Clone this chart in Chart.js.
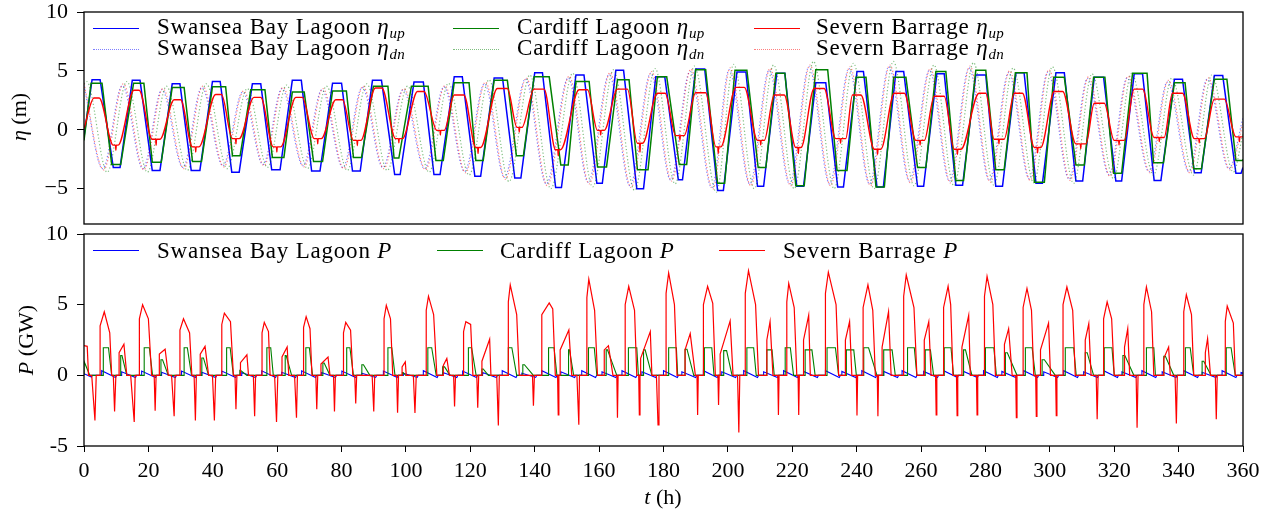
<!DOCTYPE html>
<html lang="en">
<head>
<meta charset="UTF-8">
<title>Water levels and power</title>
<script src="https://cdn.jsdelivr.net/npm/chart.js"></script>
<style>
  body { margin: 0; background: #fff; overflow: hidden; }
  #wrap { position: relative; width: 1271px; height: 514px; font-family: "Liberation Serif", serif; color: #000; }
  canvas { position: absolute; left: 0; }
  .lab { position: absolute; white-space: nowrap; font-size: 22px; line-height: 22px; transform: translate(-50%, -50%); }
  .rot { transform: translate(-50%, -50%) rotate(-90deg); }
  .leg { position: absolute; white-space: nowrap; font-size: 23px; line-height: 23px; letter-spacing: 0.8px; }
  .leg sub, .lab sub { font-size: 15px; line-height: 0; vertical-align: -4px; letter-spacing: 0.3px; }
  .sw { position: absolute; width: 46px; height: 0; }
</style>
</head>
<body>
<div id="wrap">
  <canvas id="etaChart" width="1271" height="232" style="top:0"></canvas>
  <canvas id="powerChart" width="1271" height="289" style="top:225px"></canvas>

  <!-- legend, top panel -->
  <div class="sw" style="left:93px; top:27.5px; border-top:1.5px solid #0000ff"></div>
  <div class="leg" style="left:157px; top:14.5px">Swansea Bay Lagoon <i>η</i><sub><i>up</i></sub></div>
  <div class="sw" style="left:93px; top:48.5px; border-top:1.5px dotted rgba(0,0,255,0.5)"></div>
  <div class="leg" style="left:157px; top:36px">Swansea Bay Lagoon <i>η</i><sub><i>dn</i></sub></div>
  <div class="sw" style="left:453px; top:27.5px; border-top:1.5px solid #008000"></div>
  <div class="leg" style="left:517px; top:14.5px">Cardiff Lagoon <i>η</i><sub><i>up</i></sub></div>
  <div class="sw" style="left:453px; top:48.5px; border-top:1.5px dotted rgba(0,128,0,0.5)"></div>
  <div class="leg" style="left:517px; top:36px">Cardiff Lagoon <i>η</i><sub><i>dn</i></sub></div>
  <div class="sw" style="left:754px; top:27.5px; border-top:1.5px solid #ff0000"></div>
  <div class="leg" style="left:816px; top:14.5px">Severn Barrage <i>η</i><sub><i>up</i></sub></div>
  <div class="sw" style="left:754px; top:48.5px; border-top:1.5px dotted rgba(255,0,0,0.5)"></div>
  <div class="leg" style="left:816px; top:36px">Severn Barrage <i>η</i><sub><i>dn</i></sub></div>

  <!-- legend, bottom panel -->
  <div class="sw" style="left:93px; top:249.5px; border-top:1.2px solid #0000ff"></div>
  <div class="leg" style="left:157px; top:239px">Swansea Bay Lagoon <i>P</i></div>
  <div class="sw" style="left:437px; top:249.5px; border-top:1.2px solid #008000"></div>
  <div class="leg" style="left:500px; top:239px">Cardiff Lagoon <i>P</i></div>
  <div class="sw" style="left:719px; top:249.5px; border-top:1.2px solid #ff0000"></div>
  <div class="leg" style="left:783px; top:239px">Severn Barrage <i>P</i></div>

  <!-- axis titles -->
  <div class="lab rot" style="left:19px; top:117px"><i>η</i> (m)</div>
  <div class="lab rot" style="left:26px; top:340px"><i>P</i> (GW)</div>
  <div class="lab" style="left:663px; top:497px"><i>t</i> (h)</div>
</div>

<script>
    // ---- water levels (top panel) ----
    // lagoon / basin levels: holding plateaus at high and low water, read per tide
    const swanseaTopStart = [2.5, 15.0, 27.4, 39.9, 52.3, 64.7, 77.2, 89.6, 102.5, 115.0, 127.4, 140.0, 152.8, 165.2, 177.6, 190.0, 202.8, 215.2, 227.3, 240.1, 252.2, 264.9, 277.0, 289.5, 301.9, 313.8, 326.2, 338.7, 351.1];
    const swanseaTopEnd   = [5.0, 17.4, 29.8, 42.3, 54.9, 67.5, 80.0, 92.4, 105.4, 117.5, 130.0, 142.4, 155.3, 167.6, 180.4, 192.8, 205.6, 217.7, 230.4, 242.1, 254.6, 267.2, 280.1, 292.0, 304.5, 316.7, 328.8, 341.2, 353.7];
    const swanseaTopLevel = [4.25, 4.2, 3.9, 4.1, 3.9, 4.2, 3.95, 4.2, 4.05, 4.5, 4.4, 4.85, 4.65, 5.05, 4.5, 5.15, 4.9, 4.8, 4.0, 4.95, 4.95, 4.75, 4.65, 4.85, 4.85, 4.45, 4.75, 4.3, 4.6];
    const swanseaLowStart = [9.1, 21.2, 33.3, 45.9, 58.3, 70.7, 83.4, 96.5, 108.7, 121.4, 133.8, 146.5, 159.3, 171.7, 184.6, 196.8, 209.2, 221.4, 234.1, 246.3, 258.9, 270.8, 283.2, 295.7, 308.1, 320.5, 332.4, 344.9, 357.8];
    const swanseaLowEnd   = [11.2, 23.6, 36.0, 48.2, 60.9, 73.3, 85.8, 98.2, 110.6, 123.2, 135.7, 148.3, 161.0, 173.8, 185.9, 198.6, 211.1, 223.5, 235.9, 248.3, 260.8, 272.9, 285.3, 297.7, 310.2, 322.3, 334.5, 347.0, 359.4];
    const swanseaLowLevel = [-3.2, -3.45, -3.45, -3.6, -3.4, -3.5, -3.5, -3.8, -3.8, -3.95, -4.1, -4.9, -4.55, -5.0, -4.25, -5.15, -4.8, -4.8, -4.85, -4.85, -4.8, -4.7, -4.8, -4.55, -4.35, -4.35, -4.3, -3.65, -3.7];
    const swanseaUpEnds = [-0.6, -3.2];

    const cardiffTopStart = [2.2, 15.4, 27.4, 39.9, 51.8, 64.7, 77.2, 89.9, 101.7, 115.0, 127.4, 139.8, 152.8, 165.7, 178.1, 190.0, 202.2, 214.9, 227.3, 239.8, 251.5, 264.6, 277.0, 289.3, 301.2, 313.6, 325.7, 338.7, 351.1];
    const cardiffTopEnd   = [5.6, 18.6, 31.1, 44.0, 56.2, 68.4, 81.5, 94.4, 106.9, 119.6, 131.5, 144.5, 156.9, 169.3, 181.0, 193.1, 205.9, 217.7, 231.0, 242.9, 255.3, 267.7, 280.1, 292.9, 304.5, 317.1, 330.2, 342.0, 355.0];
    const cardiffTopLevel = [3.95, 3.95, 3.6, 3.65, 3.4, 3.2, 3.3, 3.7, 3.7, 4.0, 4.2, 4.5, 4.1, 4.25, 4.5, 5.1, 5.05, 4.8, 5.1, 4.45, 4.45, 4.95, 5.05, 4.85, 4.45, 4.45, 4.8, 4.0, 4.3];
    const cardiffLowStart = [8.6, 21.2, 33.7, 46.1, 58.5, 71.3, 83.7, 96.3, 109.3, 121.7, 134.3, 148.1, 159.5, 171.9, 184.9, 196.8, 209.4, 221.1, 233.9, 246.0, 258.9, 270.8, 283.2, 295.2, 308.1, 319.8, 332.2, 344.7, 357.8];
    const cardiffLowEnd   = [11.4, 24.0, 36.5, 48.5, 62.1, 74.1, 86.2, 97.8, 111.6, 124.0, 136.5, 150.4, 162.3, 175.2, 187.2, 199.0, 211.8, 223.7, 237.0, 248.6, 261.5, 273.2, 285.8, 298.3, 310.7, 322.3, 335.3, 347.1, 359.9];
    const cardiffLowLevel = [-2.95, -2.75, -2.7, -2.2, -2.35, -2.7, -2.35, -2.4, -2.6, -2.6, -2.2, -3.0, -3.15, -3.4, -2.95, -4.55, -3.2, -4.75, -3.45, -4.85, -3.2, -4.3, -3.4, -4.45, -3.0, -3.7, -2.8, -3.3, -2.6];
    const cardiffUpEnds = [-0.9, -2.5];

    const severnPeakStart = [3.1, 15.5, 28.0, 40.9, 52.8, 65.8, 78.2, 90.5, 103.6, 115.0, 128.4, 139.8, 153.8, 165.7, 178.1, 190.0, 202.5, 214.4, 226.8, 238.7, 251.7, 264.1, 278.0, 289.0, 301.4, 313.8, 326.2, 338.1, 351.1];
    const severnPeakEnd   = [4.7, 17.1, 30.0, 42.7, 54.9, 67.8, 80.3, 92.5, 105.6, 118.0, 131.5, 142.9, 156.4, 168.8, 180.5, 193.1, 205.1, 217.5, 229.9, 241.3, 254.8, 267.2, 280.1, 291.5, 304.0, 316.9, 328.8, 341.2, 354.2];
    const severnPeakLevel = [2.7, 3.35, 2.55, 3.0, 2.75, 2.75, 2.55, 3.55, 3.25, 2.95, 3.5, 3.45, 3.4, 3.45, 3.1, 3.15, 3.6, 2.95, 3.5, 2.95, 3.1, 2.85, 3.1, 3.1, 3.25, 2.25, 3.45, 3.1, 2.6];
    const severnLowStart  = [9.1, 21.2, 33.7, 46.1, 58.8, 71.5, 83.7, 96.8, 109.6, 121.7, 134.5, 146.5, 159.5, 171.9, 183.8, 196.3, 209.2, 221.1, 233.5, 245.5, 258.4, 270.3, 282.7, 295.2, 308.1, 320.0, 332.4, 344.9, 357.8];
    const severnLowEnd    = [10.6, 23.6, 35.7, 48.2, 61.1, 73.7, 86.0, 98.9, 111.9, 123.2, 136.0, 148.0, 161.6, 173.5, 186.4, 197.8, 211.3, 222.7, 236.6, 247.5, 261.0, 272.4, 285.8, 297.2, 311.2, 323.1, 335.5, 348.0, 360.0];
    const severnLowLevel  = [-1.3, -0.8, -1.45, -0.75, -1.45, -0.75, -0.9, -0.75, -0.05, -1.5, 0.2, -1.7, -0.05, -1.15, -0.5, -1.45, -0.9, -1.5, -0.75, -1.65, -0.9, -1.65, -0.8, -1.5, -1.2, -0.9, -0.65, -0.75, -0.6];
    // short downward flicks seen near each low water of the basin level
    const severnFlickT = [9.9, 22.4, 34.7, 47.2, 59.9, 72.6, 84.9, 97.8, 110.7, 122.4, 135.2, 147.3, 160.5, 172.7, 185.1, 197.0, 210.2, 221.9, 235.0, 246.5, 259.7, 271.3, 284.2, 296.2, 309.6, 321.5, 334.0, 346.4, 358.9];
    const severnFlickV = [-1.75, -1.3, -1.9, -1.2, -1.9, -1.2, -1.35, -1.1, -0.45, -2.0, -0.2, -2.2, -0.45, -1.9, -0.9, -2.0, -1.3, -2.0, -1.15, -2.1, -1.3, -2.1, -1.2, -1.95, -1.6, -1.3, -1.0, -1.1, -1.0];
    const severnUpStart = 0.1;

    // sea side levels: high and low waters (first and last entries are the edges)
    const swanseaDnT = [0, 5.8, 11.9, 18.3, 24.2, 30.7, 36.6, 43.1, 49.3, 55.6, 61.5, 68.0, 73.9, 80.4, 86.4, 92.8, 99.1, 105.8, 111.8, 118.2, 124.4, 130.6, 137.1, 143.6, 150.4, 156.6, 163.1, 169.6, 176.0, 182.2, 188.2, 195.0, 200.4, 206.8, 212.8, 219.2, 225.2, 231.6, 237.6, 244.0, 250.0, 256.4, 262.6, 268.8, 274.9, 281.2, 287.2, 293.6, 299.4, 306.0, 311.7, 318.4, 324.0, 330.8, 336.5, 343.2, 348.9, 355.6, 360];
    const swanseaDnV = [3.75, -3.3, 3.75, -3.3, 3.4, -3.2, 3.6, -3.05, 3.2, -2.95, 3.5, -3.05, 3.4, -3.2, 3.6, -3.2, 3.4, -3.3, 3.65, -3.55, 3.9, -4.05, 4.3, -4.6, 4.4, -4.45, 4.7, -4.75, 4.8, -4.25, 4.95, -4.9, 5.1, -4.6, 5.05, -4.6, 5.35, -4.6, 5.2, -4.6, 5.35, -4.35, 5.05, -4.35, 5.25, -4.3, 4.85, -4.15, 4.9, -4.2, 4.35, -3.8, 4.4, -3.55, 4.05, -3.55, 4.3, -3.3, 1.0];
    const cardiffDnT = [0, 0.8, 7.2, 13.3, 19.7, 25.6, 32.1, 38.0, 44.5, 50.7, 57.0, 62.9, 69.4, 75.3, 81.8, 87.8, 94.2, 100.5, 107.2, 113.2, 119.6, 125.8, 132.0, 138.5, 145.0, 151.8, 158.0, 164.5, 171.0, 177.4, 183.6, 189.6, 196.4, 201.8, 208.2, 214.2, 220.6, 226.6, 233.0, 239.0, 245.4, 251.4, 257.8, 264.0, 270.2, 276.3, 282.6, 288.6, 295.0, 300.8, 307.4, 313.1, 319.8, 325.4, 332.2, 337.9, 344.6, 350.3, 357.0, 360];
    const cardiffDnV = [3.9, 4.1, -3.6, 4.1, -3.6, 3.7, -3.45, 3.9, -3.3, 3.5, -3.2, 3.8, -3.3, 3.7, -3.45, 3.9, -3.45, 3.7, -3.6, 3.95, -3.85, 4.25, -4.4, 4.65, -5.0, 4.8, -4.85, 5.1, -5.15, 5.2, -4.6, 5.4, -5.3, 5.55, -5.0, 5.5, -5.0, 5.8, -5.0, 5.65, -5.0, 5.8, -4.75, 5.5, -4.75, 5.7, -4.7, 5.25, -4.5, 5.35, -4.55, 4.75, -4.15, 4.8, -3.85, 4.4, -3.85, 4.65, -3.6, -0.3];
    const severnDnT = [0, 6.1, 12.2, 18.6, 24.5, 31.0, 36.9, 43.4, 49.6, 55.9, 61.8, 68.3, 74.2, 80.7, 86.7, 93.1, 99.4, 106.1, 112.1, 118.5, 124.7, 130.9, 137.4, 143.9, 150.7, 156.9, 163.4, 169.9, 176.3, 182.5, 188.5, 195.3, 200.7, 207.1, 213.1, 219.5, 225.5, 231.9, 237.9, 244.3, 250.3, 256.7, 262.9, 269.1, 275.2, 281.5, 287.5, 293.9, 299.7, 306.3, 312.0, 318.7, 324.3, 331.1, 336.8, 343.5, 349.2, 355.9, 360];
    const severnDnV = [3.9, -3.4, 3.9, -3.4, 3.5, -3.3, 3.7, -3.15, 3.3, -3.05, 3.6, -3.15, 3.5, -3.3, 3.7, -3.3, 3.5, -3.4, 3.75, -3.65, 4.05, -4.2, 4.4, -4.75, 4.55, -4.6, 4.85, -4.9, 4.95, -4.35, 5.15, -5.05, 5.25, -4.75, 5.2, -4.75, 5.5, -4.75, 5.35, -4.75, 5.5, -4.5, 5.2, -4.5, 5.4, -4.45, 5.0, -4.3, 5.1, -4.3, 4.5, -3.95, 4.55, -3.65, 4.2, -3.65, 4.4, -3.4, 0.6];

    // ---- power (bottom panel) ----
    // Swansea: small pulses, start time, level, time of the dip below zero
    const swanseaPStart = [5.5, 11.7, 17.9, 24.1, 30.3, 36.6, 42.8, 49.0, 55.2, 61.4, 67.6, 73.8, 80.1, 86.3, 93.0, 99.2, 105.4, 111.5, 117.6, 123.8, 129.9, 136.0, 142.2, 148.1, 154.6, 160.9, 167.1, 173.3, 180.0, 185.7, 192.4, 198.1, 204.9, 211.1, 217.3, 223.5, 230.3, 235.4, 241.6, 248.4, 254.1, 260.8, 267.0, 273.2, 279.4, 285.1, 291.9, 298.1, 304.3, 310.5, 316.7, 322.4, 328.6, 334.9, 341.6, 347.3, 353.5, 359.4];
    const swanseaPLevel = [0.33, 0.25, 0.3, 0.22, 0.3, 0.22, 0.3, 0.2, 0.32, 0.22, 0.32, 0.2, 0.3, 0.15, 0.3, 0.15, 0.33, 0.2, 0.3, 0.2, 0.33, 0.15, 0.33, 0.25, 0.33, 0.25, 0.33, 0.25, 0.33, 0.25, 0.33, 0.25, 0.33, 0.25, 0.33, 0.28, 0.33, 0.28, 0.33, 0.28, 0.33, 0.28, 0.33, 0.28, 0.33, 0.28, 0.33, 0.25, 0.33, 0.25, 0.33, 0.25, 0.33, 0.25, 0.33, 0.22, 0.33, 0.2];
    const swanseaPDipT = [9.8, 16.0, 22.2, 28.4, 34.6, 40.9, 47.1, 53.3, 59.5, 65.7, 71.9, 78.1, 84.4, 90.6, 97.3, 103.5, 109.7, 115.8, 121.9, 128.1, 134.2, 140.3, 146.6, 152.4, 158.9, 165.2, 171.4, 177.6, 184.3, 190.0, 196.7, 202.4, 209.2, 215.4, 221.6, 227.8, 234.6, 239.7, 245.9, 252.7, 258.4, 265.1, 271.3, 277.5, 283.7, 289.4, 296.2, 302.4, 308.6, 314.8, 321.0, 326.7, 332.9, 339.2, 345.9, 351.6, 357.8, 363.7];
    const swanseaPDip = -0.15;
    const swanseaPInit = [[0, 0.12], [2.3, -0.12], [2.6, 0]];

    // Cardiff: generation blocks, start, level, end of hold, back to zero
    const cardiffPStart = [0, 6.0, 11.4, 18.7, 23.9, 31.1, 36.6, 44.3, 48.4, 56.8, 62.5, 68.9, 74.2, 81.6, 86.3, 94.4, 98.9, 106.8, 111.4, 119.4, 123.6, 131.8, 136.3, 144.3, 150.5, 156.7, 162.2, 169.1, 173.8, 181.6, 186.7, 192.7, 198.7, 205.9, 212.1, 217.8, 224.0, 230.8, 236.8, 242.2, 248.4, 255.8, 261.3, 267.2, 273.2, 280.0, 286.2, 292.4, 297.6, 304.8, 311.0, 316.9, 322.7, 330.0, 335.4, 342.1, 347.3, 354.8];
    const cardiffPLevel = [1.0, 1.95, 1.4, 1.95, 1.1, 1.95, 1.23, 1.95, 0.35, 1.95, 1.4, 1.95, 0.87, 1.95, 0.75, 1.95, 0.2, 1.95, 0.6, 1.95, 0.45, 1.95, 0.75, 1.95, 1.8, 1.95, 1.8, 1.95, 1.8, 1.95, 1.85, 1.95, 1.75, 1.95, 1.8, 1.95, 1.8, 1.95, 1.8, 1.95, 1.8, 1.95, 1.8, 1.95, 1.8, 1.95, 1.6, 1.95, 1.1, 1.95, 1.6, 1.95, 1.4, 1.95, 1.35, 1.95, 1.0, 1.95];
    const cardiffPHoldEnd = [0, 7.6, 11.8, 20.3, 24.4, 32.1, 37.1, 45.4, 48.6, 58.0, 62.8, 70.0, 74.6, 82.6, 86.8, 95.6, 99.1, 108.0, 112.0, 120.4, 124.0, 132.9, 136.8, 146.0, 150.8, 158.5, 162.6, 171.7, 174.3, 184.0, 187.3, 195.0, 199.6, 208.0, 213.7, 219.4, 226.1, 233.4, 239.1, 243.7, 251.0, 257.9, 262.9, 269.3, 273.8, 282.6, 286.8, 294.5, 298.3, 307.4, 311.6, 319.3, 323.3, 332.3, 335.9, 343.6, 347.8, 356.3];
    const cardiffPEnd = [1.8, 8.6, 13.3, 21.3, 26.2, 33.4, 38.7, 46.4, 50.6, 58.8, 64.5, 71.0, 76.4, 83.7, 88.8, 96.6, 100.0, 109.4, 113.7, 121.8, 125.6, 134.4, 139.6, 146.9, 152.1, 159.3, 165.5, 172.2, 176.4, 184.4, 189.4, 195.7, 201.3, 208.8, 214.4, 220.4, 227.1, 234.4, 239.9, 246.3, 252.0, 258.7, 263.9, 270.1, 275.8, 283.4, 289.8, 295.5, 301.7, 308.2, 313.6, 320.0, 326.1, 332.8, 338.5, 344.7, 350.1, 357.6];

    // Severn: ebb humps [start, jump, peak t, peak, knee t, knee, end]
    const severnBig = [
        [5.0, 3.5, 6.3, 4.5, 8.0, 3.0, 8.6], [17.2, 4.0, 18.2, 5.0, 20.0, 4.0, 21.0], [29.8, 3.2, 30.9, 4.0, 32.8, 3.0, 33.5],
        [42.8, 3.6, 43.6, 4.4, 45.5, 3.8, 46.4], [55.3, 3.0, 56.0, 3.75, 57.3, 3.1, 57.8], [68.2, 3.4, 69.0, 4.15, 70.2, 3.3, 70.8],
        [80.6, 3.0, 81.3, 3.75, 82.8, 3.2, 83.5], [93.2, 4.0, 93.9, 4.95, 95.2, 4.0, 95.9], [106.3, 4.6, 107.0, 5.6, 108.6, 4.3, 109.6],
        [117.9, 3.1, 118.6, 3.8, 120.1, 3.6, 120.8], [131.8, 5.2, 132.4, 6.4, 134.4, 4.3, 135.2], [142.2, 4.3, 144.5, 5.13, 145.6, 4.7, 146.4],
        [156.2, 5.5, 156.8, 6.8, 158.6, 4.6, 159.5], [168.1, 5.0, 169.2, 6.3, 171.0, 4.6, 171.7], [180.8, 5.8, 181.6, 7.25, 183.4, 5.0, 184.2],
        [192.4, 5.0, 193.7, 6.3, 195.3, 5.1, 196.1], [205.4, 5.8, 206.4, 7.4, 208.6, 5.0, 209.5], [218.3, 5.2, 218.9, 6.5, 220.6, 4.8, 221.4],
        [230.3, 5.8, 231.2, 7.3, 233.6, 5.0, 234.4], [242.0, 4.8, 243.5, 6.4, 245.0, 4.6, 245.8], [254.6, 5.6, 255.4, 7.1, 257.8, 4.8, 258.7],
        [267.0, 4.8, 268.4, 6.3, 269.2, 5.0, 269.9], [279.7, 5.6, 280.5, 7.0, 282.3, 5.0, 283.1], [291.7, 4.8, 292.9, 6.15, 294.3, 4.6, 295.0],
        [304.1, 5.0, 305.3, 6.25, 307.1, 4.6, 307.9], [316.7, 4.0, 317.8, 5.2, 319.2, 4.0, 320.0], [329.2, 5.0, 330.0, 6.25, 331.6, 4.5, 332.3],
        [341.6, 4.5, 342.4, 5.7, 344.0, 4.3, 344.7], [354.5, 3.8, 355.1, 4.9, 357.0, 3.7, 357.6]
    ];
    // flood humps [start, jump, peak t, peak, end]
    const severnSmall = [
        [10.9, 1.6, 12.4, 2.2, 13.3], [23.4, 1.5, 25.2, 1.85, 26.2], [36.1, 1.5, 37.6, 2.05, 38.7], [48.6, 0.9, 50.6, 1.45, 51.1],
        [61.5, 1.3, 63.1, 2.0, 63.6], [73.6, 0.8, 75.8, 1.3, 76.4], [98.8, 0.6, 99.8, 0.95, 100.1], [111.6, 0.7, 112.7, 1.2, 113.5],
        [123.6, 1.0, 126.0, 2.55, 126.4], [147.9, 1.8, 150.6, 3.2, 151.5], [161.6, 1.8, 162.9, 2.1, 164.3], [172.9, 1.2, 175.9, 3.1, 176.4],
        [186.7, 1.8, 188.3, 2.95, 189.9], [197.6, 1.5, 200.7, 3.85, 201.6], [212.1, 2.5, 213.1, 3.8, 214.0], [223.5, 2.5, 225.1, 4.25, 225.6],
        [236.5, 2.5, 237.8, 3.8, 238.5], [247.9, 2.0, 249.9, 4.5, 250.7], [261.0, 2.5, 262.4, 3.8, 263.1], [272.7, 2.0, 274.8, 4.25, 275.3],
        [285.9, 2.2, 287.2, 3.3, 288.3], [297.1, 1.8, 299.6, 3.7, 300.2], [311.0, 2.5, 312.1, 3.65, 312.8], [323.2, 2.0, 324.2, 3.3, 324.8],
        [335.4, 1.2, 336.9, 2.0, 337.4], [348.3, 1.6, 349.0, 2.6, 349.9]
    ];
    // pumping [start, min t, min, end]
    const severnPump = [
        [2.4, 3.4, -3.2, 3.8], [9.1, 9.5, -2.55, 9.9], [14.5, 15.6, -3.3, 15.9], [21.8, 22.1, -2.5, 22.4], [27.2, 28.0, -2.9, 28.3],
        [34.2, 34.6, -3.2, 34.9], [39.9, 40.5, -3.2, 40.9], [46.9, 47.2, -2.4, 47.5], [52.6, 53.0, -2.9, 53.3], [59.2, 59.8, -3.3, 60.2],
        [65.4, 66.0, -3.0, 66.3], [72.0, 72.3, -2.4, 72.6], [77.5, 77.8, -2.55, 78.1], [84.1, 84.4, -2.0, 84.7], [89.5, 90.0, -2.55, 90.3],
        [97.1, 97.4, -2.65, 97.7], [102.3, 102.8, -2.67, 103.2], [114.8, 115.1, -2.2, 115.4], [122.0, 122.3, -2.3, 122.6], [128.2, 128.7, -3.55, 129.0],
        [139.3, 139.6, -2.15, 139.9], [147.1, 147.3, -2.8, 147.5], [153.1, 153.7, -3.5, 153.9], [165.5, 165.7, -3.0, 165.9], [172.3, 172.5, -2.8, 172.7],
        [177.8, 178.3, -3.5, 178.6], [190.4, 190.6, -2.8, 190.8], [196.9, 197.1, -2.1, 197.3], [203.0, 203.4, -4.05, 203.7], [215.5, 215.7, -2.8, 215.9],
        [221.8, 222.0, -2.8, 222.2], [239.9, 240.1, -2.85, 240.3], [246.4, 246.6, -2.9, 246.8], [264.5, 264.7, -2.8, 264.9], [271.0, 271.2, -2.85, 271.4],
        [277.2, 277.4, -2.8, 277.6], [289.4, 289.6, -3.0, 289.8], [295.6, 295.8, -2.9, 296.0], [301.8, 302.0, -2.85, 302.2], [314.4, 314.7, -3.1, 315.0],
        [326.8, 327.1, -3.7, 327.4], [338.9, 339.3, -3.4, 339.6], [351.4, 351.7, -3.1, 352.0]
    ];
    const severnPInit = [[0, 2.1], [1.0, 2.05], [1.4, 0]];

    // ---- building the point lists from the read values ----
    function pt(x, y) { return { x: x, y: y }; }

    function plateauLine(ends, topS, topE, topV, lowS, lowE, lowV) {
        const pts = [pt(0, ends[0])];
        for (let i = 0; i < topS.length; i++) {
            pts.push(pt(topS[i], topV[i]), pt(topE[i], topV[i]));
            pts.push(pt(lowS[i], lowV[i]), pt(lowE[i], lowV[i]));
        }
        if (ends.length > 1) pts.push(pt(360, ends[1]));
        return pts;
    }

    function severnUpLine() {
        const pts = [pt(0, severnUpStart)];
        for (let i = 0; i < severnPeakStart.length; i++) {
            pts.push(pt(severnPeakStart[i], severnPeakLevel[i]), pt(severnPeakEnd[i], severnPeakLevel[i]));
            pts.push(pt(severnLowStart[i], severnLowLevel[i]));
            // flick sits on the low-water plateau
            pts.push(pt(severnFlickT[i] - 0.12, severnLowLevel[i]), pt(severnFlickT[i], severnFlickV[i]), pt(severnFlickT[i] + 0.12, severnLowLevel[i]));
            pts.push(pt(severnLowEnd[i], severnLowLevel[i]));
        }
        return pts;
    }

    function pairs(ts, vs) { return ts.map((t, i) => pt(t, vs[i])); }

    function swanseaPower() {
        const pts = swanseaPInit.map(p => pt(p[0], p[1]));
        for (let i = 0; i < swanseaPStart.length; i++) {
            pts.push(pt(swanseaPStart[i], 0), pt(swanseaPStart[i], swanseaPLevel[i]));
            pts.push(pt(swanseaPDipT[i], swanseaPDip), pt(swanseaPDipT[i] + 0.35, 0));
        }
        return pts;
    }

    function cardiffPower() {
        const pts = [];
        for (let i = 0; i < cardiffPStart.length; i++) {
            pts.push(pt(cardiffPStart[i], 0), pt(cardiffPStart[i], cardiffPLevel[i]));
            pts.push(pt(cardiffPHoldEnd[i], cardiffPLevel[i]), pt(cardiffPEnd[i], 0));
        }
        pts.push(pt(360, 0));
        return pts;
    }

    function severnPower() {
        const pts = severnPInit.map(p => pt(p[0], p[1]));
        severnBig.forEach(h => pts.push(pt(h[0], 0), pt(h[0], h[1]), pt(h[2], h[3]), pt(h[4], h[5]), pt(h[6], 0)));
        severnSmall.forEach(h => pts.push(pt(h[0], 0), pt(h[0], h[1]), pt(h[2], h[3]), pt(h[4], 0)));
        severnPump.forEach(s => pts.push(pt(s[0], 0), pt(s[1], s[2]), pt(s[3], 0)));
        pts.push(pt(360, 0));
        return pts.sort((a, b) => a.x - b.x);
    }

    // ---- charts ----
    Chart.defaults.font.family = '"Liberation Serif", serif';
    const tickFont = { family: '"Liberation Serif", serif', size: 22 };

    const frame = {
        id: 'frame',
        afterDatasetsDraw(chart) {
            const a = chart.chartArea;
            const ctx = chart.ctx;
            ctx.save();
            ctx.strokeStyle = '#000';
            ctx.lineWidth = 1.3;
            ctx.strokeRect(a.left, a.top, a.right - a.left, a.bottom - a.top);
            ctx.restore();
        }
    };

    // keep the plot box where the padding says, labels may hang outside it
    function noOverhang(s) {
        s.paddingTop = 0; s.paddingBottom = 0; s.paddingLeft = 0; s.paddingRight = 0;
    }

    function yAxis(min, max, fmt) {
        return {
            type: 'linear', min: min, max: max,
            afterFit: s => { s.width = 84; noOverhang(s); },
            ticks: { stepSize: 5, includeBounds: false, padding: 9, color: '#000', font: tickFont, callback: fmt },
            grid: { display: true, drawOnChartArea: false, drawTicks: true, tickLength: 7, color: '#000', lineWidth: 1 },
            border: { display: false }
        };
    }

    function solid(data, color, width) {
        return { data: data, borderColor: color, borderWidth: width, pointRadius: 0, fill: false, tension: 0 };
    }
    function dotted(data, color) {
        return { data: data, borderColor: color, borderWidth: 1.2, borderDash: [1.2, 2.2], pointRadius: 0, fill: false, cubicInterpolationMode: 'monotone' };
    }

    const baseOptions = {
        responsive: false,
        animation: false,
        devicePixelRatio: 1,
        events: [],
        plugins: { legend: { display: false }, tooltip: { enabled: false } }
    };

    // first dataset is drawn on top
    const severnUp = solid(severnUpLine(), '#ff0000', 1.4);
    severnUp.cubicInterpolationMode = 'monotone';

    new Chart(document.getElementById('etaChart'), {
        type: 'line',
        data: {
            datasets: [
                dotted(pairs(severnDnT, severnDnV), 'rgba(255,0,0,0.5)'),
                severnUp,
                dotted(pairs(cardiffDnT, cardiffDnV), 'rgba(0,128,0,0.5)'),
                solid(plateauLine(cardiffUpEnds, cardiffTopStart, cardiffTopEnd, cardiffTopLevel, cardiffLowStart, cardiffLowEnd, cardiffLowLevel), '#008000', 1.5),
                dotted(pairs(swanseaDnT, swanseaDnV), 'rgba(0,0,255,0.5)'),
                solid(plateauLine(swanseaUpEnds, swanseaTopStart, swanseaTopEnd, swanseaTopLevel, swanseaLowStart, swanseaLowEnd, swanseaLowLevel), '#0000ff', 1.5)
            ]
        },
        options: Object.assign({}, baseOptions, {
            layout: { padding: { left: 0, right: 28, top: 12, bottom: 8 } },
            scales: {
                x: { type: 'linear', min: 0, max: 360, display: false },
                y: yAxis(-8, 10, v => v < 0 ? '\u2212' + Math.abs(v) : String(v))
            }
        }),
        plugins: [frame]
    });

    new Chart(document.getElementById('powerChart'), {
        type: 'line',
        data: {
            datasets: [
                solid(severnPower(), '#ff0000', 1.2),
                solid(cardiffPower(), '#008000', 1.1),
                solid(swanseaPower(), '#0000ff', 1.1)
            ]
        },
        options: Object.assign({}, baseOptions, {
            layout: { padding: { left: 0, right: 28, top: 9, bottom: 28 } },
            scales: {
                x: {
                    type: 'linear', min: 0, max: 360,
                    afterFit: s => { s.height = 40; noOverhang(s); },
                    ticks: { stepSize: 20, autoSkip: false, maxRotation: 0, padding: 6, color: '#000', font: tickFont },
                    grid: { display: true, drawOnChartArea: false, drawTicks: true, tickLength: 6, color: '#000', lineWidth: 1 },
                    border: { display: false }
                },
                y: yAxis(-5, 10, v => String(v))
            }
        }),
        plugins: [frame]
    });
</script>
</body>
</html>
